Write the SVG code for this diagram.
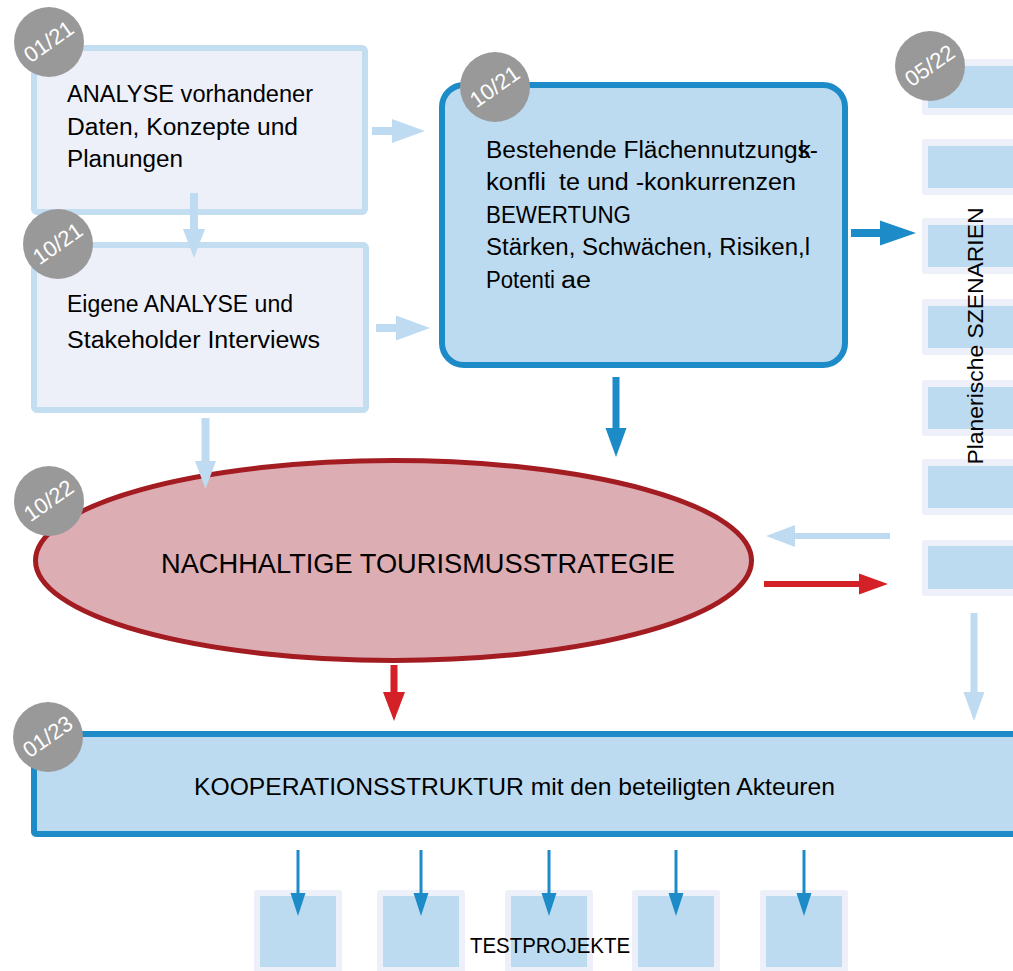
<svg xmlns="http://www.w3.org/2000/svg" width="1013" height="971" viewBox="0 0 1013 971">
<style>
.lbox{fill:#edf0f8;stroke:#c3ddf1;stroke-width:6}
.bbox{fill:#bddbf0;stroke:#1e8bc9;stroke-width:6}
.sout{fill:#edf0f8}
.sin{fill:#bddbf0}
.t{font-family:"Liberation Sans",Arial,sans-serif;fill:#000}
.badge circle{fill:#999999}
.badge text{font-family:"Liberation Sans",Arial,sans-serif;font-size:22px;fill:#fff;text-anchor:middle}
.al{fill:#bfdbf1}
.ab{fill:#1e8bc9}
.ar{fill:#d42027}
</style>
<rect width="1013" height="971" fill="#fff"/>

<g id="analyse-daten">
<rect class="lbox" x="34" y="48" width="331" height="164" rx="3"/>
<text class="t" font-size="23.5"><tspan x="67" y="102" textLength="246" lengthAdjust="spacingAndGlyphs">ANALYSE vorhandener</tspan><tspan x="67" y="135" textLength="231" lengthAdjust="spacingAndGlyphs">Daten, Konzepte und</tspan><tspan x="67" y="167" textLength="116" lengthAdjust="spacingAndGlyphs">Planungen</tspan></text>
<g class="badge"><circle cx="49" cy="42" r="35"/><text transform="translate(49,42) rotate(-35)" y="7">01/21</text></g>
</g>

<g id="eigene-analyse">
<rect class="lbox" x="34" y="245" width="332" height="165" rx="3"/>
<text class="t" font-size="23.5"><tspan x="67" y="312" textLength="226" lengthAdjust="spacingAndGlyphs">Eigene ANALYSE und</tspan><tspan x="67" y="348" textLength="253" lengthAdjust="spacingAndGlyphs">Stakeholder Interviews</tspan></text>
<g class="badge"><circle cx="58" cy="244" r="35"/><text transform="translate(58,244) rotate(-35)" y="7">10/21</text></g>
</g>

<g id="bewertung">
<rect class="bbox" x="442" y="85" width="403" height="280" rx="22"/>
<text class="t" font-size="23.5"><tspan x="486" y="158" textLength="332" lengthAdjust="spacingAndGlyphs">Bestehende Flächennutzungs-</tspan><tspan x="486" y="190" textLength="60" lengthAdjust="spacingAndGlyphs">konfli</tspan><tspan x="559" y="190" textLength="237" lengthAdjust="spacingAndGlyphs">te und -konkurrenzen</tspan><tspan x="486" y="223" textLength="145" lengthAdjust="spacingAndGlyphs">BEWERTUNG</tspan><tspan x="486" y="255" textLength="324" lengthAdjust="spacingAndGlyphs">Stärken, Schwächen, Risiken,l</tspan><tspan x="486" y="288" textLength="69" lengthAdjust="spacingAndGlyphs">Potenti</tspan><tspan x="561" y="288" textLength="30" lengthAdjust="spacingAndGlyphs">ae</tspan></text>
<text class="t" font-size="23.5" x="799" y="158">k</text>
<g class="badge"><circle cx="495" cy="87" r="35"/><text transform="translate(495,87) rotate(-35)" y="7">10/21</text></g>
</g>

<g id="szenarien">
<rect class="sout" x="922" y="59" width="100" height="56" rx="3"/><rect class="sin" x="928" y="66" width="100" height="42"/>
<rect class="sout" x="922" y="139" width="100" height="56" rx="3"/><rect class="sin" x="928" y="146" width="100" height="42"/>
<rect class="sout" x="922" y="218" width="100" height="56" rx="3"/><rect class="sin" x="928" y="225" width="100" height="42"/>
<rect class="sout" x="922" y="299" width="100" height="56" rx="3"/><rect class="sin" x="928" y="306" width="100" height="42"/>
<rect class="sout" x="922" y="380" width="100" height="56" rx="3"/><rect class="sin" x="928" y="387" width="100" height="42"/>
<rect class="sout" x="922" y="459" width="100" height="56" rx="3"/><rect class="sin" x="928" y="466" width="100" height="42"/>
<rect class="sout" x="922" y="540" width="100" height="56" rx="3"/><rect class="sin" x="928" y="546" width="100" height="43"/>
<text class="t" font-size="21.5" transform="translate(983,336) rotate(-90)" x="-128.5" y="0" textLength="257" lengthAdjust="spacingAndGlyphs">Planerische SZENARIEN</text>
<g class="badge"><circle cx="930" cy="66" r="35"/><text transform="translate(930,66) rotate(-35)" y="7">05/22</text></g>
</g>

<g id="strategie">
<ellipse cx="393.5" cy="560.5" rx="358" ry="100" fill="#dcadb3" stroke="#a31c22" stroke-width="5"/>
<text class="t" font-size="28" x="161" y="573" textLength="514" lengthAdjust="spacingAndGlyphs">NACHHALTIGE TOURISMUSSTRATEGIE</text>
<g class="badge"><circle cx="49" cy="501" r="35"/><text transform="translate(49,501) rotate(-35)" y="7">10/22</text></g>
</g>

<g id="kooperation">
<rect class="bbox" x="34" y="734" width="1000" height="100" rx="2"/>
<text class="t" font-size="24.5" x="194" y="795" textLength="641" lengthAdjust="spacingAndGlyphs">KOOPERATIONSSTRUKTUR mit den beteiligten Akteuren</text>
<g class="badge"><circle cx="48" cy="737" r="35"/><text transform="translate(48,737) rotate(-35)" y="7">01/23</text></g>
</g>

<g id="testprojekte">
<rect class="sout" x="254" y="890" width="88" height="85" rx="3"/><rect class="sin" x="260" y="896" width="76" height="71"/>
<rect class="sout" x="377" y="890" width="88" height="85" rx="3"/><rect class="sin" x="383" y="896" width="76" height="71"/>
<rect class="sout" x="505" y="890" width="88" height="85" rx="3"/><rect class="sin" x="511" y="896" width="76" height="71"/>
<rect class="sout" x="632" y="890" width="88" height="85" rx="3"/><rect class="sin" x="638" y="896" width="76" height="71"/>
<rect class="sout" x="760" y="890" width="88" height="85" rx="3"/><rect class="sin" x="766" y="896" width="76" height="71"/>
<text class="t" font-size="22" x="470" y="953" textLength="160" lengthAdjust="spacingAndGlyphs">TESTPROJEKTE</text>
</g>

<g id="connectors">
<polygon class="al" points="372,127 392,127 392,119 425,131 392,143 392,135 372,135"/>
<polygon class="al" points="376,324 396,324 396,315.5 430,328 396,340.5 396,332 376,332"/>
<polygon class="al" points="190,193 198,193 198,229 205,229 194,258 183,229 190,229"/>
<polygon class="al" points="201.5,418 209.5,418 209.5,461 216,461 205.5,489 195,461 201.5,461"/>
<polygon class="ab" points="851,229 880,229 880,220.5 916,233 880,245.5 880,237 851,237"/>
<polygon class="ab" points="612.5,377 619.5,377 619.5,428 626.5,428 616,457 605.5,428 612.5,428"/>
<polygon class="al" points="890,533 795,533 795,525 766,536 795,547 795,539 890,539"/>
<polygon class="ar" points="764,581 859,581 859,573.5 888,584 859,594.5 859,587 764,587"/>
<polygon class="ar" points="390.5,665 397.5,665 397.5,692 405,692 394,721 383,692 390.5,692"/>
<polygon class="al" points="970.5,613 977.5,613 977.5,692 984.5,692 974,721 963.5,692 970.5,692"/>
<polygon class="ab" points="296.5,850 299.5,850 299.5,893 305.5,893 298,916 290.5,893 296.5,893"/>
<polygon class="ab" points="419.5,850 422.5,850 422.5,893 428.5,893 421,916 413.5,893 419.5,893"/>
<polygon class="ab" points="547.5,850 550.5,850 550.5,893 556.5,893 549,916 541.5,893 547.5,893"/>
<polygon class="ab" points="674.5,850 677.5,850 677.5,893 683.5,893 676,916 668.5,893 674.5,893"/>
<polygon class="ab" points="802.5,850 805.5,850 805.5,893 811.5,893 804,916 796.5,893 802.5,893"/>
</g>
</svg>
